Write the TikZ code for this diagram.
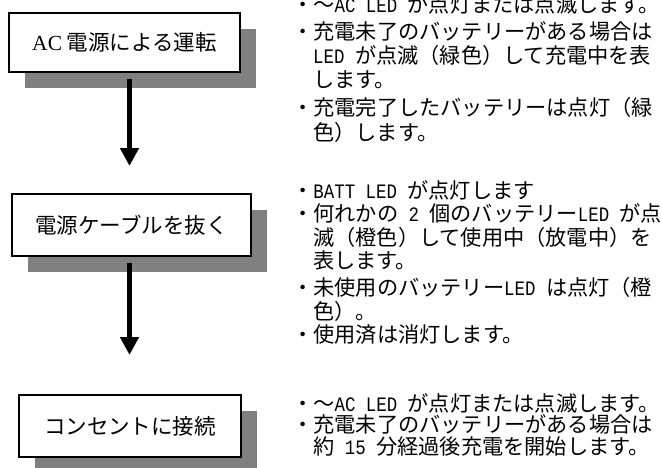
\documentclass[tikz,border=0pt]{standalone}
\usepackage{fontspec}
\usetikzlibrary{arrows.meta,shadows}
\newfontfamily\jpfont{Noto Sans CJK JP}
\newfontfamily\hwfont[FakeStretch=0.85]{Liberation Mono}
\newfontfamily\lsfont{Liberation Serif}
\newcommand\hw[1]{{\fontsize{20.5}{24}\selectfont\hwfont #1}}
\definecolor{shadowgray}{HTML}{808080}
\begin{document}
\begin{tikzpicture}[x=1pt,y=-1pt,
  stepbox/.style={draw, line width=1.3pt, fill=white, inner sep=0pt,
    font={\fontsize{21.5}{26}\selectfont\jpfont},
    general shadow={fill=shadowgray, shadow xshift=16pt, shadow yshift=-16pt}},
  ln/.style={anchor=base west, inner sep=0pt, font={\fontsize{21.2}{24}\selectfont\jpfont}},
  arr/.style={line width=5.5pt, shorten <=6pt, -{Triangle[length=18pt,width=18pt]}}]
\useasboundingbox (0,0) rectangle (662,467);

% boxes
\node[stepbox, minimum width=231pt, minimum height=59pt] (b1) at (124.5,42.5) {{\lsfont AC} 電源による運転};
\node[stepbox, minimum width=239pt, minimum height=62pt] (b2) at (131.5,225) {電源ケーブルを抜く};
\node[stepbox, minimum width=222pt, minimum height=62pt] (b3) at (130,426) {コンセントに接続};

% arrows
\coordinate (t1) at (129.5,166);
\coordinate (t2) at (129.5,355);
\draw[arr] (b1.south -| t1) -- (t1);
\draw[arr] (b2.south -| t2) -- (t2);

% section 1
\node[ln] (l1) at (292,12) {・～\hw{AC LED }が点灯または点滅します。};
\node[ln] (l2) at (292,39) {・充電未了のバッテリーがある場合は};
\node[ln] (l3) at (313,63) {\hw{LED }が点滅（緑色）して充電中を表};
\node[ln] (l4) at (313,87) {します。};
\node[ln] (l5) at (292,115) {・充電完了したバッテリーは点灯（緑};
\node[ln] (l6) at (313,140) {色）します。};

% section 2
\node[ln] (m1) at (292,198) {・\hw{BATT LED }が点灯します};
\node[ln] (m2) at (292,221) {・何れかの\hw{ 2 }個のバッテリー\hw{LED }が点};
\node[ln] (m3) at (313,245) {滅（橙色）して使用中（放電中）を};
\node[ln] (m4) at (313,268) {表します。};
\node[ln] (m5) at (292,295) {・未使用のバッテリー\hw{LED }は点灯（橙};
\node[ln] (m6) at (313,319) {色）。};
\node[ln] (m7) at (292,342) {・使用済は消灯します。};

% section 3
\node[ln] (n1) at (292,411) {・～\hw{AC LED }が点灯または点滅します。};
\node[ln] (n2) at (292,432) {・充電未了のバッテリーがある場合は};
\node[ln] (n3) at (313,454) {約\hw{ 15 }分経過後充電を開始します。};
\end{tikzpicture}
\end{document}
